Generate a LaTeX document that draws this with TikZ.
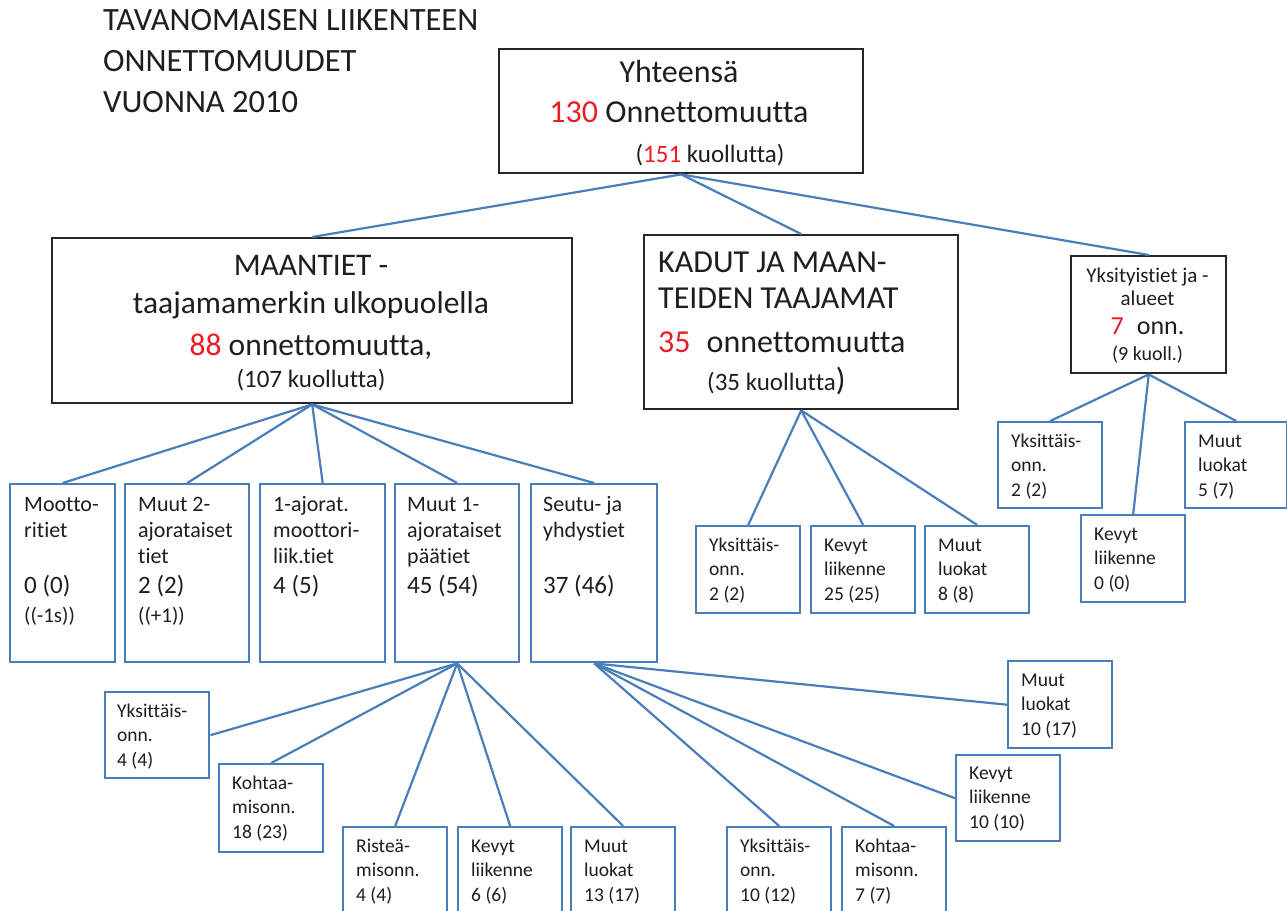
\documentclass[tikz,border=0pt]{standalone}
\usepackage{fontspec}
\setmainfont{Carlito}[Ligatures=NoCommon]
\definecolor{lblue}{RGB}{74,126,187}
\definecolor{txtc}{HTML}{1E1E1E}
\definecolor{rd}{RGB}{237,28,36}
\definecolor{bframe}{HTML}{262626}
\newcommand\fs[1]{\fontsize{#1}{#1}\selectfont}
\newcommand\rn[1]{\textcolor{rd}{#1}}
\newcommand\tcol[3]{\parbox[t]{#1}{\raggedright\setlength\baselineskip{#2}#3}}
\newcommand\ccol[3]{\parbox[t]{#1}{\centering\setlength\baselineskip{#2}#3}}
\begin{document}
\begin{tikzpicture}[x=1pt,y=-1pt,
  bbox/.style={draw=bframe,line width=2.4pt,fill=white,inner sep=0pt,anchor=north west},
  ubox/.style={draw=lblue,line width=2.4pt,fill=white,inner sep=0pt,anchor=north west},
  conn/.style={draw=lblue,line width=2.2pt},
  lbl/.style={inner sep=0pt,text=txtc},
  ltxt/.style={lbl,anchor=base west,font=\fs{22}},
  stxt/.style={lbl,anchor=base west,font=\fs{19.5}},
]
\useasboundingbox (0,0) rectangle (1287,910);
\clip (0,0) rectangle (1287,910);

% title
\node[lbl,anchor=base west,font=\fs{32.5}] (title) at (103,30)
  {\tcol{400pt}{41pt}{TAVANOMAISEN LIIKENTEEN\\ONNETTOMUUDET\\VUONNA 2010}};

% main boxes
\node[bbox,minimum width=364pt,minimum height=124pt] (top) at (498,48) {};
\node[bbox,minimum width=520pt,minimum height=165pt] (maa) at (51,237) {};
\node[bbox,minimum width=314pt,minimum height=174pt] (kad) at (643,234) {};
\node[bbox,minimum width=155pt,minimum height=117pt] (yks) at (1070,255) {};

\node[lbl,anchor=base,font=\fs{32}] (topt) at ([shift={(181,34)}]top.north west)
  {\ccol{350pt}{40pt}{Yhteensä\\\rn{130} Onnettomuutta\\{\fs{25}\hspace*{62pt}(\rn{151} kuollutta)}}};
\node[lbl,anchor=base,font=\fs{31.5}] (maat) at ([shift={(260,38)}]maa.north west)
  {\ccol{500pt}{38pt}{MAANTIET -\\taajamamerkin ulkopuolella\\[4pt]\rn{88} onnettomuutta,\\[-6pt]{\fs{25}(107 kuollutta)}}};
\node[lbl,anchor=base west,font=\fs{32}] (kadt) at ([shift={(15,38)}]kad.north west)
  {\tcol{295pt}{38pt}{KADUT JA MAAN-\\[-2pt]TEIDEN TAAJAMAT\\[6pt]\rn{35}\hspace{16pt}onnettomuutta\\{\hspace*{49pt}\fs{25}(35 kuollutta})}};
\node[lbl,anchor=base,font=\fs{21}] (ykst) at ([shift={(77.5,27)}]yks.north west)
  {\ccol{150pt}{23pt}{Yksityistiet ja -\\alueet\\[6pt]{\fs{26}\rn{7}\hspace{13pt}onn.}\\[3pt]{\fs{20}(9 kuoll.)}}};

% level 2 under MAANTIET
\node[ubox,minimum width=105pt,minimum height=178pt] (m1) at (9,483) {};
\node[ubox,minimum width=124pt,minimum height=178pt] (m2) at (124,483) {};
\node[ubox,minimum width=125pt,minimum height=178pt] (m3) at (259,483) {};
\node[ubox,minimum width=124pt,minimum height=178pt] (m4) at (394,483) {};
\node[ubox,minimum width=126pt,minimum height=178pt] (m5) at (530,483) {};

\node[ltxt] (m1t) at ([shift={(15,28)}]m1.north west)
  {\tcol{88pt}{26pt}{Mootto-\\ritiet\\[30pt]{\fs{25}0 (0)}\\[3pt]{\fs{21}((-1s))}}};
\node[ltxt] (m2t) at ([shift={(14,28)}]m2.north west)
  {\tcol{108pt}{26pt}{Muut 2-\\ajorataiset\\tiet\\[4pt]{\fs{25}2 (2)}\\[3pt]{\fs{21}((+1))}}};
\node[ltxt] (m3t) at ([shift={(14,28)}]m3.north west)
  {\tcol{108pt}{26pt}{1-ajorat.\\moottori-\\liik.tiet\\[4pt]{\fs{25}4 (5)}}};
\node[ltxt] (m4t) at ([shift={(13,28)}]m4.north west)
  {\tcol{108pt}{26pt}{Muut 1-\\ajorataiset\\päätiet\\[4pt]{\fs{25}45 (54)}}};
\node[ltxt] (m5t) at ([shift={(13,28)}]m5.north west)
  {\tcol{110pt}{26pt}{Seutu- ja\\yhdystiet\\[30pt]{\fs{25}37 (46)}}};

% children of KADUT
\node[ubox,minimum width=104pt,minimum height=87pt] (k1) at (695,525) {};
\node[ubox,minimum width=104pt,minimum height=87pt] (k2) at (810,525) {};
\node[ubox,minimum width=104pt,minimum height=87pt] (k3) at (924,525) {};
\node[stxt] (k1t) at ([shift={(14,26)}]k1.north west) {\tcol{88pt}{24.5pt}{Yksittäis-\\onn.\\2 (2)}};
\node[stxt] (k2t) at ([shift={(14,26)}]k2.north west) {\tcol{88pt}{24.5pt}{Kevyt\\liikenne\\25 (25)}};
\node[stxt] (k3t) at ([shift={(14,26)}]k3.north west) {\tcol{88pt}{24.5pt}{Muut\\luokat\\8 (8)}};

% children of Yksityistiet
\node[ubox,minimum width=104pt,minimum height=86pt] (y1) at (997,421) {};
\node[ubox,minimum width=104pt,minimum height=87pt] (y2) at (1080,514) {};
\node[ubox,minimum width=102pt,minimum height=86pt] (y3) at (1184,421) {};
\node[stxt] (y1t) at ([shift={(14,26)}]y1.north west) {\tcol{88pt}{24.5pt}{Yksittäis-\\onn.\\2 (2)}};
\node[stxt] (y2t) at ([shift={(14,26)}]y2.north west) {\tcol{88pt}{24.5pt}{Kevyt\\liikenne\\0 (0)}};
\node[stxt] (y3t) at ([shift={(14,26)}]y3.north west) {\tcol{86pt}{24.5pt}{Muut\\luokat\\5 (7)}};

% children of Muut 1-ajorataiset paatiet
\node[ubox,minimum width=104pt,minimum height=86pt] (p1) at (104,691) {};
\node[ubox,minimum width=104pt,minimum height=88pt] (p2) at (218,763) {};
\node[ubox,minimum width=104pt,minimum height=88pt] (p3) at (342,826) {};
\node[ubox,minimum width=104pt,minimum height=88pt] (p4) at (457,826) {};
\node[ubox,minimum width=104pt,minimum height=88pt] (p5) at (570,826) {};
\node[stxt] (p1t) at ([shift={(13,26)}]p1.north west) {\tcol{88pt}{24.5pt}{Yksittäis-\\onn.\\4 (4)}};
\node[stxt] (p2t) at ([shift={(14,26)}]p2.north west) {\tcol{88pt}{24.5pt}{Kohtaa-\\misonn.\\18 (23)}};
\node[stxt] (p3t) at ([shift={(14,26)}]p3.north west) {\tcol{88pt}{24.5pt}{Risteä-\\misonn.\\4 (4)}};
\node[stxt] (p4t) at ([shift={(14,26)}]p4.north west) {\tcol{88pt}{24.5pt}{Kevyt\\liikenne\\6 (6)}};
\node[stxt] (p5t) at ([shift={(14,26)}]p5.north west) {\tcol{88pt}{24.5pt}{Muut\\luokat\\13 (17)}};

% children of Seutu- ja yhdystiet
\node[ubox,minimum width=104pt,minimum height=88pt] (s1) at (726,826) {};
\node[ubox,minimum width=104pt,minimum height=88pt] (s2) at (841,826) {};
\node[ubox,minimum width=104pt,minimum height=86pt] (s3) at (955,754) {};
\node[ubox,minimum width=104pt,minimum height=87pt] (s4) at (1007,660) {};
\node[stxt] (s1t) at ([shift={(14,26)}]s1.north west) {\tcol{88pt}{24.5pt}{Yksittäis-\\onn.\\10 (12)}};
\node[stxt] (s2t) at ([shift={(14,26)}]s2.north west) {\tcol{88pt}{24.5pt}{Kohtaa-\\misonn.\\7 (7)}};
\node[stxt] (s3t) at ([shift={(14,25)}]s3.north west) {\tcol{88pt}{24.5pt}{Kevyt\\liikenne\\10 (10)}};
\node[stxt] (s4t) at ([shift={(14,26)}]s4.north west) {\tcol{88pt}{24.5pt}{Muut\\luokat\\10 (17)}};

% connectors
\draw[conn] (top.south) -- (maa.north);
\draw[conn] (top.south) -- (kad.north);
\draw[conn] (top.south) -- (yks.north);
\foreach \c in {m1,m2,m3,m4,m5} \draw[conn] (maa.south) -- (\c.north);
\foreach \c in {k1,k2,k3} \draw[conn] (kad.south) -- (\c.north);
\foreach \c in {y1,y2,y3} \draw[conn] (yks.south) -- (\c.north);
\draw[conn] (m4.south) -- (p1.east);
\foreach \c in {p2,p3,p4,p5} \draw[conn] (m4.south) -- (\c.north);
\draw[conn] (m5.south) -- (s1.north);
\draw[conn] (m5.south) -- (s2.north);
\draw[conn] (m5.south) -- (s3.west);
\draw[conn] (m5.south) -- (s4.west);
\end{tikzpicture}
\end{document}
